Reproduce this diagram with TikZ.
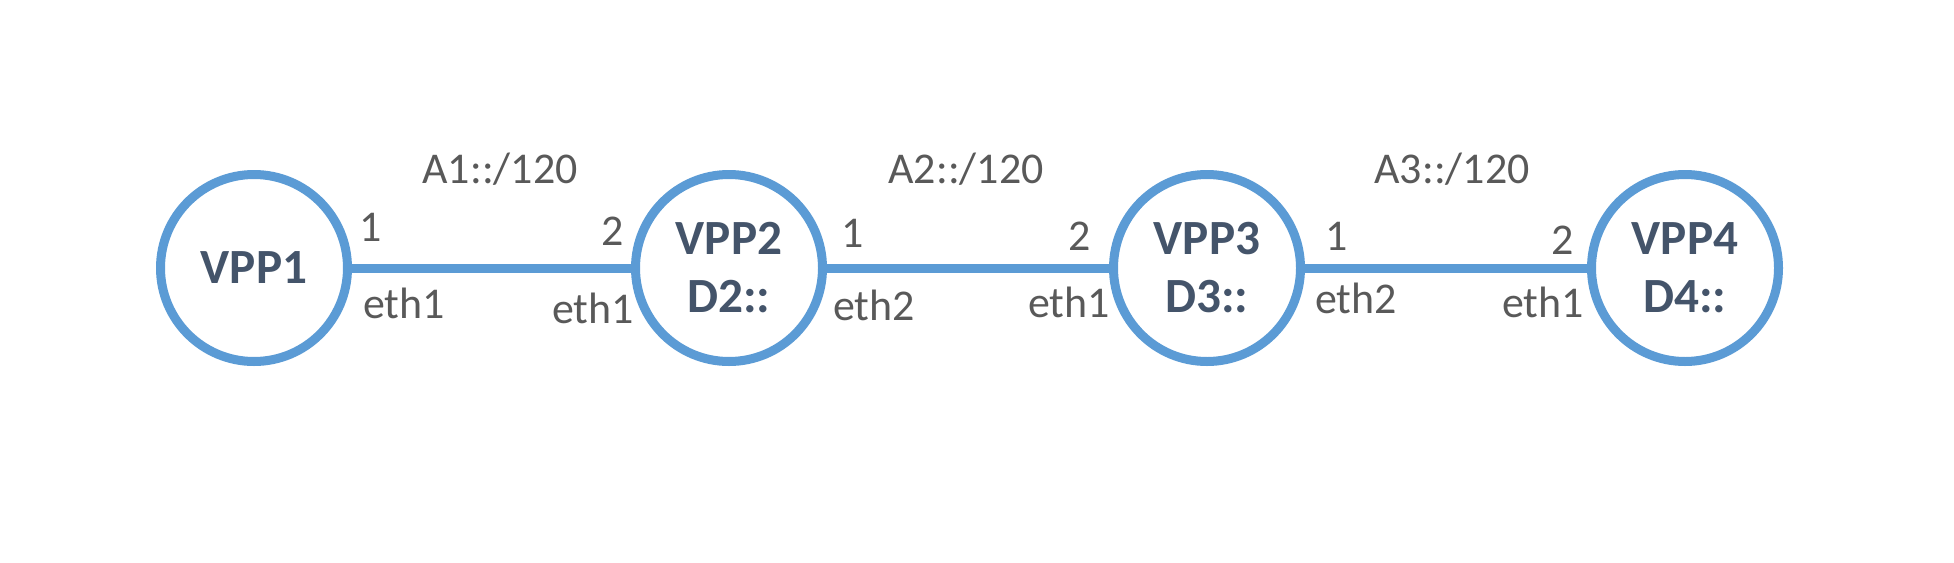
\documentclass[tikz,border=0pt]{standalone}
\usepackage{fontspec}
\setmainfont{Carlito}
\usepackage{xcolor}
\usepackage{tikz}
\usetikzlibrary{positioning}
\definecolor{linkblue}{HTML}{5B9BD5}
\definecolor{vpptext}{HTML}{44546A}
\definecolor{labgray}{HTML}{595959}

\begin{document}
\begin{tikzpicture}[
    vpp/.style={circle,draw=linkblue,line width=0.09cm,minimum size=1.87cm,inner sep=0pt,
        align=center,text=vpptext,font=\fontsize{14}{16.5}\selectfont\bfseries},
    lab/.style={anchor=base,text=labgray,inner sep=0pt,font=\fontsize{12.5}{15}\selectfont},
    link/.style={draw=linkblue,line width=0.09cm}]
    \useasboundingbox (0,0) rectangle (19.54,5.62);
    \node[vpp] (vpp1) at (2.54,2.94) {VPP1};
    \node[vpp] (vpp2) at (7.29,2.94) {VPP2\\D2::};
    \node[vpp] (vpp3) at (12.07,2.94) {VPP3\\D3::};
    \node[vpp] (vpp4) at (16.85,2.94) {VPP4\\D4::};
    \draw[link] (vpp1) -- (vpp2);
    \draw[link] (vpp2) -- (vpp3);
    \draw[link] (vpp3) -- (vpp4);
    % subnets
    \node[lab] (net1) at (5.00,3.79) {A1::/120};
    \node[lab] (net2) at (9.66,3.79) {A2::/120};
    \node[lab] (net3) at (14.52,3.79) {A3::/120};
    % port numbers
    \node[lab] (p1a) at (3.71,3.21) {1};
    \node[lab] (p1b) at (6.13,3.17) {2};
    \node[lab] (p2a) at (8.53,3.15) {1};
    \node[lab] (p2b) at (10.80,3.12) {2};
    \node[lab] (p3a) at (13.37,3.12) {1};
    \node[lab] (p3b) at (15.63,3.08) {2};
    % interfaces
    \node[lab] (if1a) at (4.04,2.44) {eth1};
    \node[lab] (if1b) at (5.93,2.39) {eth1};
    \node[lab] (if2a) at (8.74,2.42) {eth2};
    \node[lab] (if2b) at (10.69,2.45) {eth1};
    \node[lab] (if3a) at (13.56,2.49) {eth2};
    \node[lab] (if3b) at (15.43,2.45) {eth1};
\end{tikzpicture}
\end{document}
